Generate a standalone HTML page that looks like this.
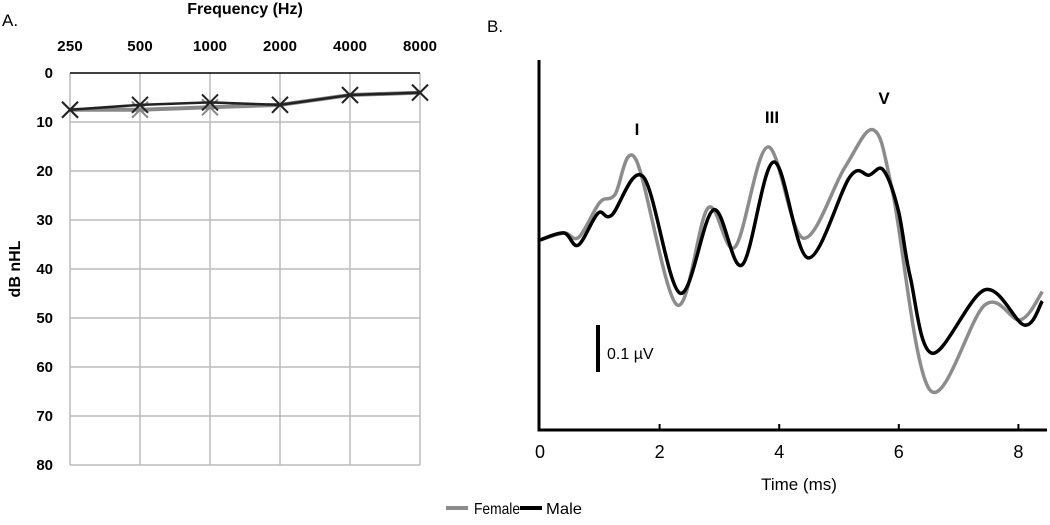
<!DOCTYPE html>
<html><head><meta charset="utf-8"><style>
body{margin:0;background:#fff;font-family:"Liberation Sans",sans-serif}
svg text{font-family:"Liberation Sans",sans-serif}
</style></head><body>
<svg id="s" width="1050" height="520"></svg>
<script>
const freqs=["250","500","1000","2000","4000","8000"];
const femaleHL=[7.5,7.5,7,6.5,4.5,4];
const maleHL=[7.5,6.5,6,6.5,4.5,4];
const dbTicks=[0,10,20,30,40,50,60,70,80];
const timeTicks=[0,2,4,6,8];
const femaleT=[0,0.4,0.65,1.0,1.25,1.6,2.29,2.81,3.26,3.81,4.4,5.1,5.58,5.9,6.52,7.44,8.03,8.4];
const femaleV=[0,0.015,0.006,0.08,0.096,0.172,-0.138,0.068,-0.015,0.198,0.004,0.155,0.234,0.1,-0.319,-0.138,-0.17,-0.11];
const maleT=[0,0.4,0.64,0.97,1.2,1.73,2.34,2.9,3.38,3.91,4.48,5.18,5.5,5.74,5.99,6.19,6.56,7.44,8.1,8.4];
const maleV=[0,0.015,-0.011,0.057,0.053,0.134,-0.113,0.064,-0.053,0.166,-0.038,0.134,0.138,0.149,0.064,-0.078,-0.241,-0.106,-0.181,-0.13];
const NS="http://www.w3.org/2000/svg",s=document.getElementById('s');
function el(t,a,txt){const e=document.createElementNS(NS,t);for(const k in a)e.setAttribute(k,a[k]);if(txt!=null)e.textContent=txt;s.appendChild(e);return e;}
// Panel A
const ax=i=>70+i*70, ay=v=>73+v*4.9;
let t=el('text',{x:2,y:26,'font-size':17},'A.');
t=el('text',{x:245,y:14,'font-size':16,'font-weight':'bold','text-anchor':'middle'},'Frequency (Hz)');
freqs.forEach((f,i)=>{const g=el('line',{x1:ax(i),x2:ax(i),y1:73,y2:465,stroke:'#bbb','stroke-width':1.5});
 const l=el('text',{x:ax(i),y:51,'font-size':15,'font-weight':'bold','text-anchor':'middle','textLength':f.length*8.5},f);});
dbTicks.forEach(d=>{const g=el('line',{x1:70,x2:420,y1:ay(d),y2:ay(d),stroke:d==0?'#000':'#bbb','stroke-width':1.5});
 const l=el('text',{x:53,y:ay(d)+5,'font-size':15,'font-weight':'bold','text-anchor':'end'},d);});
t=el('text',{x:0,y:0,'font-size':16,'font-weight':'bold','text-anchor':'middle',transform:'translate(20,269) rotate(-90)'},'dB nHL');
[[femaleHL,'#888','female-audiogram',4],[maleHL,'#222','male-audiogram',2.5]].forEach(([d,c,n,sw])=>{
 const p=el('polyline',{points:d.map((v,i)=>ax(i)+','+ay(v)).join(' '),fill:'none',stroke:c,'stroke-width':sw});
 d.forEach((v,i)=>{const m=el('path',{d:`M${ax(i)-8},${ay(v)-8}L${ax(i)+8},${ay(v)+8}M${ax(i)-8},${ay(v)+8}L${ax(i)+8},${ay(v)-8}`,stroke:c,'stroke-width':2});});});
// Panel B
const bx=v=>540+v*59.8, by=v=>240-v*470;
t=el('text',{x:487,y:32,'font-size':17},'B.');
let a=el('path',{d:'M539,60V430H1047',fill:'none',stroke:'#000','stroke-width':3});
timeTicks.forEach(v=>{if(v>0){const k=el('line',{x1:bx(v),x2:bx(v),y1:424,y2:430,stroke:'#000','stroke-width':2});}
 const l=el('text',{x:bx(v),y:458,'font-size':18,'text-anchor':'middle'},v);});
t=el('text',{x:799,y:490,'font-size':17,'text-anchor':'middle'},'Time (ms)');
function smooth(T,V){const P=T.map((x,i)=>[bx(x),by(V[i])]);let d='M'+P[0];for(let i=0;i<P.length-1;i++){const p0=P[i-1]||P[i],p1=P[i],p2=P[i+1],p3=P[i+2]||p2;
 d+=`C${p1[0]+(p2[0]-p0[0])/6},${p1[1]+(p2[1]-p0[1])/6} ${p2[0]-(p3[0]-p1[0])/6},${p2[1]-(p3[1]-p1[1])/6} ${p2[0]},${p2[1]}`;}return d;}
let w=el('path',{d:smooth(femaleT,femaleV),fill:'none',stroke:'#8c8c8c','stroke-width':3.5});
w=el('path',{d:smooth(maleT,maleV),fill:'none',stroke:'#000','stroke-width':3.5});
[['I',637,135],['III',772,123],['V',884,104]].forEach(([n,x,y])=>{const l=el('text',{x:x,y:y,'font-size':17,'font-weight':'bold','text-anchor':'middle'},n);});
let sb=el('line',{x1:598,x2:598,y1:325,y2:372,stroke:'#000','stroke-width':4});
t=el('text',{x:607,y:359,'font-size':16},'0.1 µV');
// legend
[['#8c8c8c',446,'Female',474,46],['#000',520,'Male',546,36]].forEach(([c,x,n,tx,tl])=>{const l=el('line',{x1:x,x2:x+22,y1:508,y2:508,stroke:c,'stroke-width':4});
 const q=el('text',{x:tx,y:514,'font-size':16,textLength:tl,lengthAdjust:'spacingAndGlyphs'},n);});
</script>
</body></html>
